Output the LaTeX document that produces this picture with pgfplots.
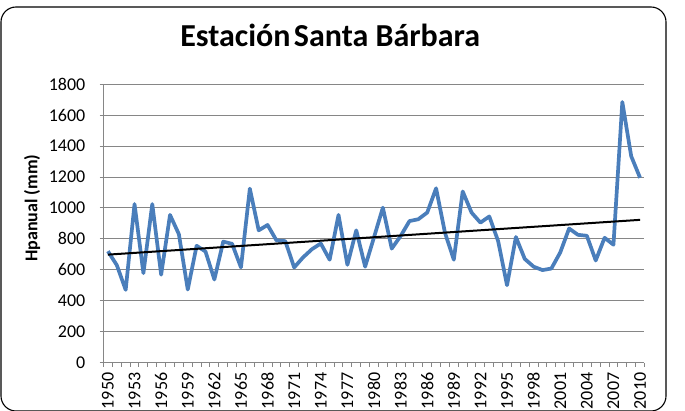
\documentclass[border=0pt]{standalone}
\usepackage{fontspec}
\setmainfont{Carlito}
\usepackage{pgfplots}
\pgfplotsset{compat=1.18}
\definecolor{serieblue}{RGB}{74,126,187}
\definecolor{gridgray}{RGB}{134,134,134}
\begin{document}
\begin{tikzpicture}
\path[use as bounding box] (0,0) rectangle (685pt,410pt);
\draw[rounded corners=15pt, line width=1.1pt] (1pt,-1pt) rectangle (666pt,403pt);
\begin{axis}[
  at={(103.5pt,47.5pt)}, anchor=south west,
  scale only axis, width=541pt, height=278.2pt,
  xmin=1949.5, xmax=2010.5, ymin=0, ymax=1800,
  axis lines*=left,
  axis line style={gridgray, line width=1pt},
  xtick={1949.5,1950.5,...,2010.5}, xticklabels={},
  extra x ticks={1950,1953,...,2010},
  extra x tick labels={1950,1953,1956,1959,1962,1965,1968,1971,1974,1977,1980,1983,1986,1989,1992,1995,1998,2001,2004,2007,2010},
  extra x tick style={major tick length=0pt, grid=none},
  ytick={0,200,...,1800},
  tick align=outside, major tick length=4pt,
  tick style={gridgray, line width=1pt},
  ymajorgrids, major grid style={gridgray, line width=1pt},
  /pgf/number format/assume math mode=true,
  /pgf/number format/1000 sep={},
  tick label style={font=\fontsize{18}{18}\selectfont},
  yticklabel style={anchor=east, inner sep=0pt, xshift=-14pt},
  xticklabel style={rotate=90, anchor=east, inner sep=0pt, xshift=-10pt},
  title={\textbf{Estación\hspace{-0.12em} Santa Bárbara}},
  title style={font=\fontsize{32}{32}\selectfont, at={(axis description cs:0.419,1.156)}, anchor=center},
  clip=false,
]
\addplot[serieblue, line width=3.7pt, line join=round] coordinates {
(1950,720) (1951,630) (1952,470) (1953,1025) (1954,578) (1955,1025) (1956,568) (1957,955) (1958,830) (1959,472)
(1960,755) (1961,718) (1962,537) (1963,782) (1964,768) (1965,615) (1966,1125) (1967,855) (1968,890) (1969,790)
(1970,785) (1971,615) (1972,680) (1973,733) (1974,770) (1975,665) (1976,955) (1977,632) (1978,855) (1979,620)
(1980,810) (1981,1002) (1982,737) (1983,818) (1984,915) (1985,927) (1986,970) (1987,1127) (1988,840) (1989,665)
(1990,1107) (1991,970) (1992,905) (1993,945) (1994,785) (1995,500) (1996,812) (1997,670) (1998,620) (1999,598)
(2000,608) (2001,712) (2002,867) (2003,826) (2004,820) (2005,660) (2006,807) (2007,762) (2008,1685) (2009,1335)
(2010,1195)
};
\addplot[black, line width=2pt] coordinates {(1950,698) (2010,923)};
\node[rotate=90, anchor=center, font=\fontsize{18}{18}\selectfont\bfseries] at (rel axis cs:-0.132,0.555) {Hpanual (mm)};
\end{axis}
\end{tikzpicture}
\end{document}
